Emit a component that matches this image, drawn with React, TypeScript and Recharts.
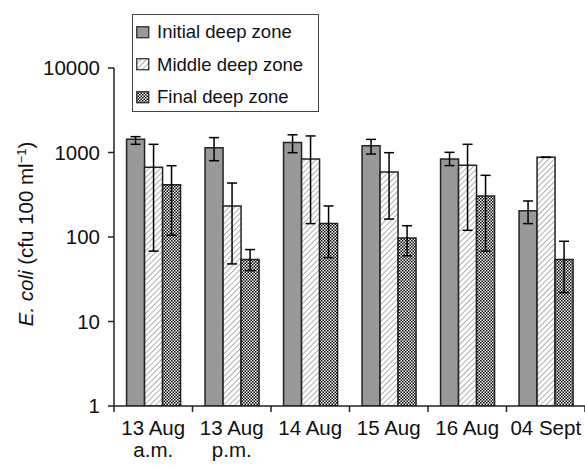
import React from 'react';
import { BarChart, Bar, XAxis, YAxis, ErrorBar, Legend } from 'recharts';

// sampling dates, split into two label lines
const dateLine1 = ['13 Aug', '13 Aug', '14 Aug', '15 Aug', '16 Aug', '04 Sept'];
const dateLine2 = ['a.m.', 'p.m.', '', '', '', ''];

// E. coli, cfu 100 ml-1 (bar top, error bar top, error bar bottom)
const initialZone = [1430, 1140, 1310, 1200, 840, 205];
const initialHigh = [1540, 1500, 1620, 1430, 1005, 267];
const initialLow = [1250, 800, 995, 960, 700, 144];

const middleZone = [670, 233, 838, 588, 705, 877];
const middleHigh = [1250, 435, 1570, 995, 1250, 877];
const middleLow = [68, 48, 144, 163, 120, 877];

const finalZone = [416, 54, 144, 97, 305, 54];
const finalHigh = [698, 71, 233, 136, 537, 89];
const finalLow = [105, 40, 57, 60, 68, 22];

const yTicks = [1, 10, 100, 1000, 10000];
const edgeTicks = [0, 0.5, 1, 1.5, 2, 2.5, 3, 3.5, 4, 4.5, 5, 5.5, 6];

const data = dateLine1.map((d, i) => ({
  name: `${d} ${dateLine2[i]}`.trim(),
  pos: i + 0.5,
  initial: initialZone[i],
  initialErr: [initialZone[i] - initialLow[i], initialHigh[i] - initialZone[i]],
  middle: middleZone[i],
  middleErr: [middleZone[i] - middleLow[i], middleHigh[i] - middleZone[i]],
  final: finalZone[i],
  finalErr: [finalZone[i] - finalLow[i], finalHigh[i] - finalZone[i]],
}));

const FONT = '"Liberation Sans", Arial, sans-serif';
const INK = '#222';

const series = [
  { key: 'initial', label: 'Initial deep zone', fill: '#999999' },
  { key: 'middle', label: 'Middle deep zone', fill: 'url(#hatch)' },
  { key: 'final', label: 'Final deep zone', fill: 'url(#checker)' },
];

const EdgeTick = (props: any) => {
  const { x, y, payload } = props;
  const v = payload.value;
  if (Number.isInteger(v)) {
    return <line x1={x} y1={y} x2={x} y2={y + 6} stroke={INK} strokeWidth={1.5} />;
  }
  const i = Math.floor(v);
  return (
    <text x={x} textAnchor="middle" fontSize={20.5} fill="#111" fontFamily={FONT}>
      <tspan x={x} y={y + 29}>{dateLine1[i]}</tspan>
      {dateLine2[i] && <tspan x={x} y={y + 51}>{dateLine2[i]}</tspan>}
    </text>
  );
};

const YLabel = () => {
  const cx = 33;
  const cy = 234;
  return (
    <text
      x={cx}
      y={cy}
      transform={`rotate(-90, ${cx}, ${cy})`}
      textAnchor="middle"
      fontSize={20.5}
      fill="#111"
      fontFamily={FONT}
    >
      <tspan fontStyle="italic">E. coli</tspan>
      <tspan> (cfu 100 ml</tspan>
      <tspan dy={-7} fontSize={13}>−1</tspan>
      <tspan dy={7}>)</tspan>
    </text>
  );
};

const LegendBox = () => (
  <div
    style={{
      border: '1.5px solid #444',
      boxSizing: 'border-box',
      width: 187,
      height: 98,
      paddingTop: 1,
      background: '#fff',
      fontFamily: FONT,
      fontSize: 18.5,
      color: '#111',
    }}
  >
    {series.map((s) => (
      <div key={s.key} style={{ display: 'flex', alignItems: 'center', height: 32.5, paddingLeft: 3 }}>
        <svg width={14} height={13} style={{ marginRight: 7 }}>
          <rect x={0.75} y={0.75} width={12} height={11} fill={s.fill} stroke={INK} strokeWidth={1.2} />
        </svg>
        {s.label}
      </div>
    ))}
  </div>
);

export default function App() {
  return (
    <div style={{ position: 'absolute', left: 0, top: 0 }}>
      <BarChart
        width={585}
        height={470}
        data={data}
        margin={{ top: 68, right: 0, bottom: 0, left: 0 }}
        barCategoryGap="16%"
        barGap={0}
      >
        <defs>
          <pattern id="hatch" width={4} height={4} patternUnits="userSpaceOnUse" patternTransform="rotate(45)">
            <rect width={4} height={4} fill="#fff" />
            <line x1={0} y1={0} x2={0} y2={4} stroke="#9a9a9a" strokeWidth={1.6} />
          </pattern>
          <pattern id="checker" width={3} height={3} patternUnits="userSpaceOnUse">
            <rect width={3} height={3} fill="#fff" />
            <rect x={0} y={0} width={1.5} height={1.5} fill="#000" />
            <rect x={1.5} y={1.5} width={1.5} height={1.5} fill="#000" />
          </pattern>
        </defs>
        <XAxis xAxisId="cat" dataKey="name" hide height={0} />
        <XAxis
          xAxisId="edge"
          dataKey="pos"
          type="number"
          domain={[0, 6]}
          ticks={edgeTicks}
          allowDataOverflow
          interval={0}
          height={64}
          tickSize={0}
          tickMargin={0}
          tickLine={false}
          axisLine={{ stroke: INK, strokeWidth: 1.5 }}
          tick={<EdgeTick />}
        />
        <YAxis
          scale="log"
          domain={[1, 10000]}
          ticks={yTicks}
          allowDataOverflow
          interval={0}
          width={114}
          tickSize={6}
          tickMargin={8}
          axisLine={{ stroke: INK, strokeWidth: 1.5 }}
          tickLine={{ stroke: INK, strokeWidth: 1.5 }}
          tick={{ fontSize: 20.5, fill: '#111', fontFamily: FONT }}
          label={{ content: <YLabel /> }}
        />
        <Legend
          layout="vertical"
          align="center"
          verticalAlign="middle"
          wrapperStyle={{ left: 132, top: 14, width: 187 }}
          content={<LegendBox />}
        />
        {series.map((s) => (
          <Bar
            key={s.key}
            xAxisId="cat"
            dataKey={s.key}
            name={s.label}
            fill={s.fill}
            stroke={INK}
            strokeWidth={1.5}
            isAnimationActive={false}
          >
            <ErrorBar dataKey={`${s.key}Err`} width={5} stroke="#000" strokeWidth={1.5} />
          </Bar>
        ))}
      </BarChart>
    </div>
  );
}
